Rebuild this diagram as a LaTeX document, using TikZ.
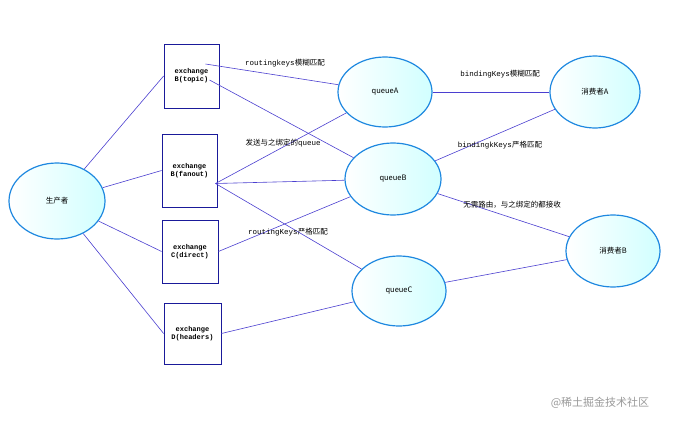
\documentclass[tikz,border=0pt]{standalone}
\usepackage{fontspec}
\setmainfont{Liberation Mono}
\newfontfamily\cjk{Noto Sans CJK SC}
\usetikzlibrary{shapes.geometric}
\definecolor{linkblue}{HTML}{4B3FD0}
\definecolor{rimblue}{HTML}{1E88E0}
\definecolor{boxblue}{HTML}{1A1A9A}
\tikzset{
  queue/.style={ellipse,draw=rimblue,line width=1.2pt,left color=white,right color=cyan!18,inner sep=0pt,font=\fontsize{7.5}{8}\selectfont\cjk},
  xbox/.style={rectangle,draw=boxblue,thick,align=center,font=\fontsize{7}{8}\selectfont\bfseries},
  link/.style={linkblue,semithick},
  tag/.style={font=\fontsize{7.5}{8}\selectfont,inner sep=1pt}
}
\begin{document}
\begin{tikzpicture}[x=1pt,y=-1pt]
\useasboundingbox (0,0) rectangle (675,423);
% producer and exchanges
\node[queue,minimum width=96,minimum height=76] (prod) at (57,201) {生产者};
\node[xbox,minimum width=55,minimum height=64] (topic) at (191.5,76) {exchange\\B(topic)};
\node[xbox,minimum width=55,minimum height=73] (fanout) at (189.5,170.5) {exchange\\B(fanout)};
\node[xbox,minimum width=56,minimum height=63] (direct) at (190,251.5) {exchange\\C(direct)};
\node[xbox,minimum width=57,minimum height=61] (headers) at (192.5,333.5) {exchange\\D(headers)};
% queues and consumers
\node[queue,minimum width=94,minimum height=70] (qA) at (385,92) {queueA};
\node[queue,minimum width=96,minimum height=72] (qB) at (393,179) {queueB};
\node[queue,minimum width=94,minimum height=70] (qC) at (399,291) {queueC};
\node[queue,minimum width=90,minimum height=72] (cA) at (595,92) {消费者A};
\node[queue,minimum width=94,minimum height=72] (cB) at (613,251) {消费者B};
% connectors
\foreach \x in {topic,fanout,direct,headers}
  \draw[link] (prod) -- (\x.west);
\draw[link] (topic.center) ++(14,-12) coordinate (t1) (t1) -- (qA);
\draw[link] (topic.center) ++(18,4) coordinate (t2) (t2) -- (qB);
\draw[link] (fanout.center) ++(26,13) coordinate (f1);
\draw[link] (f1) -- (qA);
\draw[link] (f1) -- (qB);
\draw[link] (f1) -- (qC);
\draw[link] (direct.east) -- (qB);
\draw[link] (headers.east) -- (qC);
\draw[link] (qA) -- (cA);
\draw[link] (qB) -- (cA);
\draw[link] (qB) -- (cB);
\draw[link] (qC) -- (cB);
% labels
\node[tag,fill=white] (l1) at (285,63) {routingkeys{\cjk 模糊匹配}};
\node[tag] (l2) at (283,143) {{\cjk 发送与之绑定的}queue};
\node[tag] (l3) at (288,232) {routingKeys{\cjk 严格匹配}};
\node[tag,fill=white] (l4) at (500,74) {bindingKeys{\cjk 模糊匹配}};
\node[tag] (l5) at (500,145) {bindingkKeys{\cjk 严格匹配}};
\node[tag] (l6) at (512,205) {\cjk 无需路由，与之绑定的都接收};
\node[font=\fontsize{11}{12}\selectfont\cjk,text=gray!80] (mark) at (600,403) {@稀土掘金技术社区};
\end{tikzpicture}
\end{document}
